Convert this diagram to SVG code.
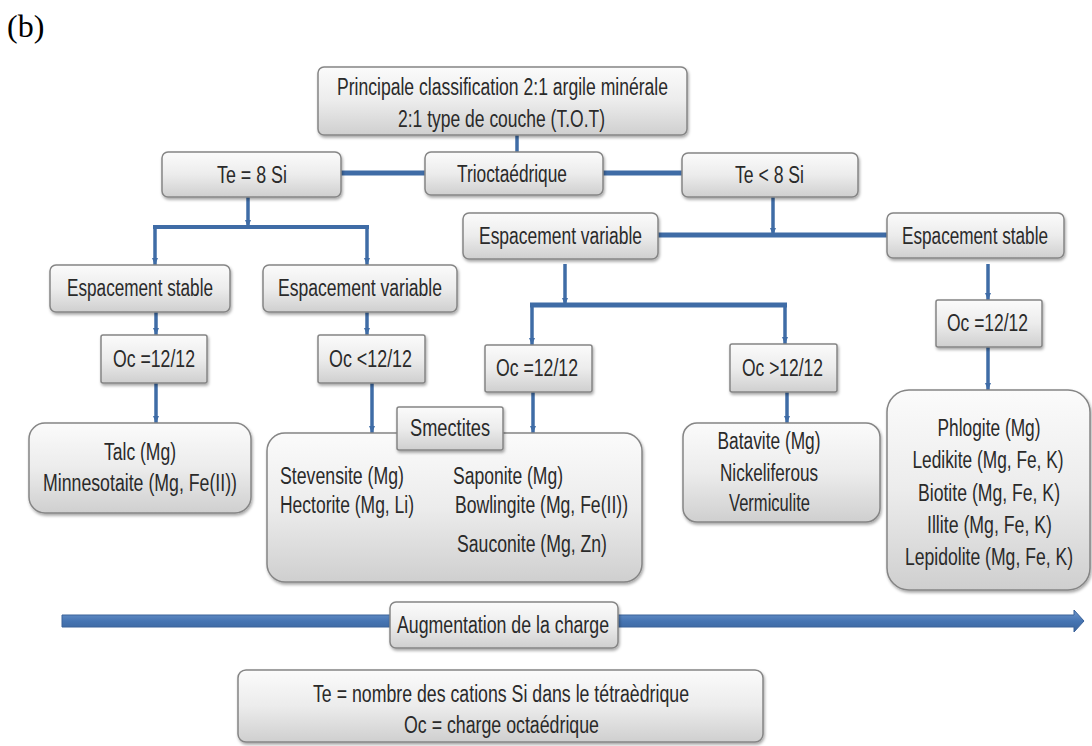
<svg xmlns="http://www.w3.org/2000/svg" width="1092" height="746" viewBox="0 0 1092 746">
<style>
.bx{fill:url(#g);stroke:#858585;stroke-width:1.5;filter:url(#sh)}
.t{font-family:"Liberation Sans",Arial,sans-serif;font-size:23px;fill:#2a2a2a;text-anchor:middle}
.ts{font-family:"Liberation Sans",Arial,sans-serif;font-size:23px;fill:#2a2a2a;text-anchor:start}
.c{stroke:#3f6ca6;fill:none;stroke-linecap:butt}
.v{stroke-width:3.5}
.h{stroke-width:5}
</style>
<defs>
<linearGradient id="g" x1="0" y1="0" x2="0" y2="1">
<stop offset="0" stop-color="#fbfbfb"/>
<stop offset="0.5" stop-color="#ececec"/>
<stop offset="1" stop-color="#cfcfcf"/>
</linearGradient>
<linearGradient id="ag" x1="0" y1="0" x2="0" y2="1">
<stop offset="0" stop-color="#6f97cc"/>
<stop offset="0.5" stop-color="#4675b3"/>
<stop offset="1" stop-color="#3a649c"/>
</linearGradient>
<filter id="sh" x="-10%" y="-10%" width="120%" height="130%">
<feDropShadow dx="1" dy="2" stdDeviation="1.5" flood-color="#000" flood-opacity="0.35"/>
</filter>
<marker id="ar" markerUnits="userSpaceOnUse" markerWidth="8" markerHeight="8" refX="7" refY="4" orient="auto">
<path d="M0,1 L7,4 L0,7 z" fill="#3f6ca6"/>
</marker>
</defs>
<rect width="1092" height="746" fill="#fff"/>
<text x="7" y="37" font-family="'Liberation Serif','Times New Roman',serif" font-size="32" fill="#000">(b)</text>

<g id="connectors">
<line class="c v" x1="517" y1="135" x2="517" y2="152"/>
<line class="c h" x1="341" y1="173" x2="425" y2="173"/>
<line class="c h" x1="603" y1="173" x2="682" y2="173"/>
<line class="c v" x1="248" y1="197" x2="248" y2="227" marker-end="url(#ar)"/>
<line class="c" stroke-width="4" x1="153" y1="227" x2="369" y2="227"/>
<line class="c v" x1="155" y1="227" x2="155" y2="265" marker-end="url(#ar)"/>
<line class="c v" x1="367" y1="227" x2="367" y2="265" marker-end="url(#ar)"/>
<line class="c v" x1="156" y1="312" x2="156" y2="335" marker-end="url(#ar)"/>
<line class="c v" x1="156" y1="383" x2="156" y2="423" marker-end="url(#ar)"/>
<line class="c v" x1="367" y1="312" x2="367" y2="335" marker-end="url(#ar)"/>
<line class="c v" x1="372" y1="383" x2="372" y2="433" marker-end="url(#ar)"/>
<line class="c v" x1="773" y1="197" x2="773" y2="235" marker-end="url(#ar)"/>
<line class="c h" x1="658" y1="235" x2="887" y2="235"/>
<line class="c v" x1="565" y1="264" x2="565" y2="305" marker-end="url(#ar)"/>
<line class="c h" x1="530" y1="305" x2="787" y2="305"/>
<line class="c v" x1="532" y1="305" x2="532" y2="345" marker-end="url(#ar)"/>
<line class="c v" x1="785" y1="305" x2="785" y2="344" marker-end="url(#ar)"/>
<line class="c v" x1="533" y1="392" x2="533" y2="433" marker-end="url(#ar)"/>
<line class="c v" x1="787" y1="392" x2="787" y2="423" marker-end="url(#ar)"/>
<line class="c v" x1="988" y1="264" x2="988" y2="300" marker-end="url(#ar)"/>
<line class="c v" x1="988" y1="347" x2="988" y2="390" marker-end="url(#ar)"/>
<polygon points="62,615 1074,615 1074,610 1084,621 1074,632 1074,627 62,627" fill="url(#ag)" stroke="#3a6299" stroke-width="1"/>
</g>

<g id="title">
<rect class="bx" x="318" y="67" width="369" height="68" rx="6"/>
<text class="t" x="502.5" y="95" textLength="331" lengthAdjust="spacingAndGlyphs">Principale classification 2:1 argile minérale</text>
<text class="t" x="501.5" y="127" textLength="207" lengthAdjust="spacingAndGlyphs">2:1 type de couche (T.O.T)</text>
</g>
<g id="te8">
<rect class="bx" x="162" y="152" width="179" height="45" rx="6"/>
<text class="t" x="252" y="183" textLength="70" lengthAdjust="spacingAndGlyphs">Te = 8 Si</text>
</g>
<g id="trio">
<rect class="bx" x="425" y="152" width="178" height="43" rx="6"/>
<text class="t" x="512" y="182" textLength="110" lengthAdjust="spacingAndGlyphs">Trioctaédrique</text>
</g>
<g id="telt8">
<rect class="bx" x="682" y="153" width="176" height="44" rx="6"/>
<text class="t" x="769.5" y="183" textLength="69" lengthAdjust="spacingAndGlyphs">Te &lt; 8 Si</text>
</g>
<g id="esp-stable-r">
<rect class="bx" x="887" y="213" width="177" height="45" rx="6"/>
<text class="t" x="975" y="244" textLength="146" lengthAdjust="spacingAndGlyphs">Espacement stable</text>
</g>
<g id="esp-var-m">
<rect class="bx" x="463" y="213" width="195" height="46" rx="6"/>
<text class="t" x="560.5" y="244" textLength="163" lengthAdjust="spacingAndGlyphs">Espacement variable</text>
</g>
<g id="esp-stable-l">
<rect class="bx" x="50" y="265" width="180" height="47" rx="6"/>
<text class="t" x="140" y="296" textLength="146" lengthAdjust="spacingAndGlyphs">Espacement stable</text>
</g>
<g id="esp-var-l">
<rect class="bx" x="263" y="265" width="194" height="47" rx="6"/>
<text class="t" x="360" y="296" textLength="164" lengthAdjust="spacingAndGlyphs">Espacement variable</text>
</g>
<g id="oc-r">
<rect class="bx" x="936" y="300" width="106" height="47" rx="2"/>
<text class="t" x="987.5" y="331" textLength="81" lengthAdjust="spacingAndGlyphs">Oc =12/12</text>
</g>
<g id="oc-l">
<rect class="bx" x="101" y="335" width="106" height="48" rx="2"/>
<text class="t" x="154" y="367" textLength="82" lengthAdjust="spacingAndGlyphs">Oc =12/12</text>
</g>
<g id="oc-lt">
<rect class="bx" x="318" y="335" width="107" height="48" rx="2"/>
<text class="t" x="370.5" y="367" textLength="83" lengthAdjust="spacingAndGlyphs">Oc &lt;12/12</text>
</g>
<g id="oc-m">
<rect class="bx" x="485" y="345" width="107" height="47" rx="2"/>
<text class="t" x="537" y="376" textLength="82" lengthAdjust="spacingAndGlyphs">Oc =12/12</text>
</g>
<g id="oc-gt">
<rect class="bx" x="730" y="344" width="107" height="48" rx="2"/>
<text class="t" x="782.5" y="376" textLength="81" lengthAdjust="spacingAndGlyphs">Oc &gt;12/12</text>
</g>
<g id="talc">
<rect class="bx" x="29" y="423" width="222" height="90" rx="16"/>
<text class="t" x="140" y="460" textLength="72" lengthAdjust="spacingAndGlyphs">Talc (Mg)</text>
<text class="t" x="140" y="491" textLength="194" lengthAdjust="spacingAndGlyphs">Minnesotaite (Mg, Fe(II))</text>
</g>
<g id="smectites">
<rect class="bx" x="267" y="433" width="375" height="149" rx="18"/>
<text class="ts" x="280" y="484" textLength="124" lengthAdjust="spacingAndGlyphs">Stevensite (Mg)</text>
<text class="ts" x="280" y="513" textLength="134" lengthAdjust="spacingAndGlyphs">Hectorite (Mg, Li)</text>
<text class="ts" x="453" y="484" textLength="110" lengthAdjust="spacingAndGlyphs">Saponite (Mg)</text>
<text class="ts" x="455" y="513" textLength="173" lengthAdjust="spacingAndGlyphs">Bowlingite (Mg, Fe(II))</text>
<text class="ts" x="457" y="552" textLength="150" lengthAdjust="spacingAndGlyphs">Sauconite (Mg, Zn)</text>
</g>
<g id="smectites-label">
<rect class="bx" x="397" y="407" width="106" height="43" rx="2"/>
<text class="t" x="450" y="436" textLength="80" lengthAdjust="spacingAndGlyphs">Smectites</text>
</g>
<g id="batavite">
<rect class="bx" x="683" y="423" width="197" height="99" rx="14"/>
<text class="t" x="769" y="449" textLength="103" lengthAdjust="spacingAndGlyphs">Batavite (Mg)</text>
<text class="t" x="769" y="481" textLength="98" lengthAdjust="spacingAndGlyphs">Nickeliferous</text>
<text class="t" x="769.5" y="511" textLength="81" lengthAdjust="spacingAndGlyphs">Vermiculite</text>
</g>
<g id="phlogite">
<rect class="bx" x="887" y="390" width="203" height="200" rx="22"/>
<text class="t" x="989" y="436" textLength="103" lengthAdjust="spacingAndGlyphs">Phlogite (Mg)</text>
<text class="t" x="988" y="468" textLength="151" lengthAdjust="spacingAndGlyphs">Ledikite (Mg, Fe, K)</text>
<text class="t" x="989" y="501" textLength="142" lengthAdjust="spacingAndGlyphs">Biotite (Mg, Fe, K)</text>
<text class="t" x="989.5" y="533" textLength="125" lengthAdjust="spacingAndGlyphs">Illite (Mg, Fe, K)</text>
<text class="t" x="989" y="565" textLength="168" lengthAdjust="spacingAndGlyphs">Lepidolite (Mg, Fe, K)</text>
</g>
<g id="augmentation">
<rect class="bx" x="390" y="602" width="228" height="46" rx="6"/>
<text class="t" x="503" y="633" textLength="212" lengthAdjust="spacingAndGlyphs">Augmentation de la charge</text>
</g>
<g id="legend">
<rect class="bx" x="238" y="670" width="525" height="72" rx="8"/>
<text class="t" x="501" y="702" textLength="376" lengthAdjust="spacingAndGlyphs">Te = nombre des cations Si dans le tétraèdrique</text>
<text class="t" x="501.5" y="733" textLength="195" lengthAdjust="spacingAndGlyphs">Oc = charge octaédrique</text>
</g>
</svg>
